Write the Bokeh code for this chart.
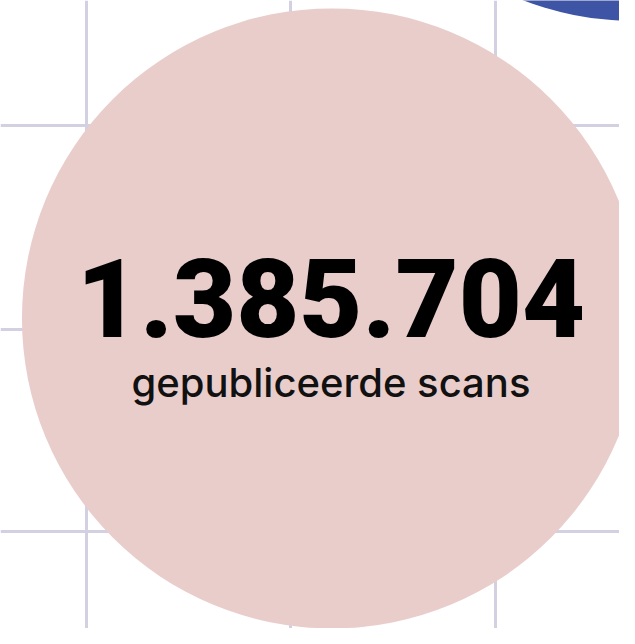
from bokeh.plotting import figure
from bokeh.models import Range1d, FixedTicker
from bokeh.core.properties import value
from bokeh.embed import file_html
from bokeh.resources import INLINE

# ---- data ----
published_scans = [1385704]
caption = ["gepubliceerde scans"]

def fmt(n):
    return f"{n:,}".replace(",", ".")

# ---- layout: data units = reference pixels ----
W, H = 619, 628
p = figure(width=W, height=H, output_backend="svg", toolbar_location=None,
           x_range=Range1d(0, 635), y_range=Range1d(644, 0),
           min_border=0, outline_line_color=None,
           background_fill_color="white", border_fill_color="white")
p.axis.visible = False
p.xgrid.ticker = FixedTicker(ticks=[88, 298, 508])
p.ygrid.ticker = FixedTicker(ticks=[128, 337, 545])
for g in (p.xgrid, p.ygrid):
    g.grid_line_color = "#d3d0e1"
    g.grid_line_width = 3
    g.grid_line_alpha = 1

# blue circle (top right)
p.circle(x=[650], y=[-297], radius=318, fill_color="#3d55a4", line_color=None)
# pink circle
p.circle(x=[340], y=[326], radius=318, fill_color="#e9cdcb", line_color=None)

p.text(x=[339], y=[305], text=[fmt(v) for v in published_scans],
       text_font=value("Roboto Black, Roboto"), text_font_style="bold", text_font_size="109px",
       text_align="center", text_baseline="alphabetic", text_color="black")
p.text(x=[339], y=[392], text=caption,
       text_font=value("Inter Medium, Inter"), text_font_style="normal", text_font_size="40px",
       text_align="center", text_baseline="alphabetic", text_color="#111111")

open("out.html", "w").write(file_html(p, INLINE))
